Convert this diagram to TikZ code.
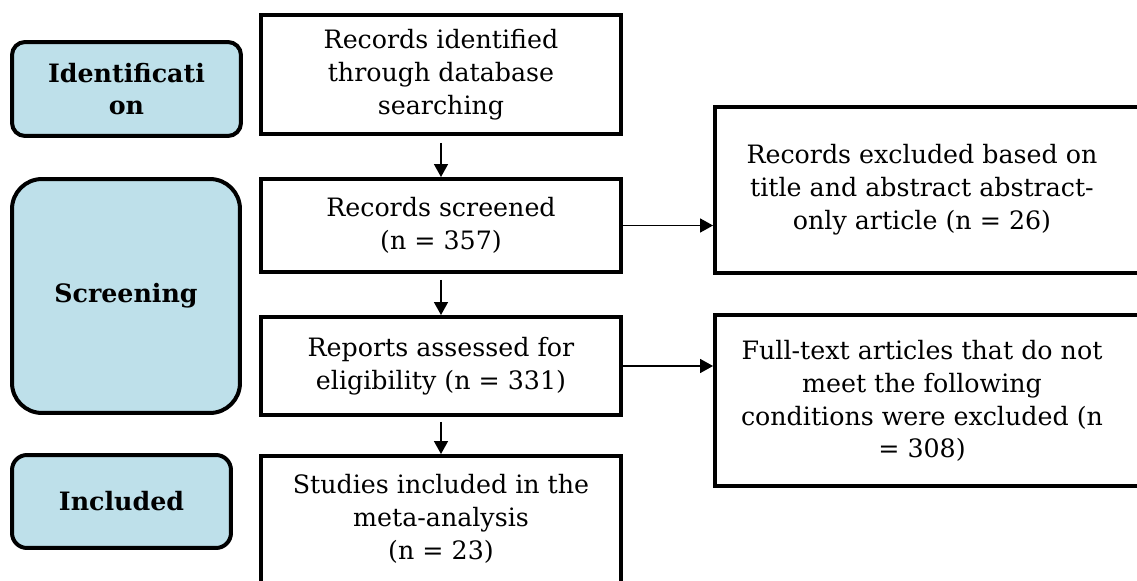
\documentclass[tikz,border=0pt]{standalone}
\usepackage{fontspec}
\setmainfont{DejaVu Serif}
\usetikzlibrary{arrows.meta,calc}
\definecolor{stagefill}{RGB}{190,224,234}
\tikzset{
  stagebox/.style={draw=black, line width=0.08cm, fill=stagefill, align=center,
    font=\fontsize{14.4}{18.7}\selectfont\bfseries, inner sep=0pt},
  flowbox/.style={draw=black, line width=0.08cm, fill=white, align=center,
    font=\fontsize{14.4}{18.7}\selectfont, inner sep=0pt},
  flowtext/.style={align=center, font=\fontsize{14.4}{18.7}\selectfont, inner sep=0pt},
  flowarrow/.style={line width=0.03cm, -{Triangle[width=0.28cm,length=0.26cm]}}
}
\begin{document}
\begin{tikzpicture}[x=0.02cm,y=-0.02cm]
\useasboundingbox (0,0) rectangle (1137,581);
\fill[white] (0,0) rectangle (1137,581);
% stage labels
\node[stagebox, rounded corners=0.26cm, minimum width=4.58cm, minimum height=1.88cm] (sid) at (126.5,89) {Identificati\\on};
\node[stagebox, rounded corners=0.6cm, minimum width=4.56cm, minimum height=4.68cm] (ssc) at (126,296) {Screening};
\node[stagebox, rounded corners=0.3cm, minimum width=4.38cm, minimum height=1.86cm] (sin) at (121.5,501.5) {Included};
% main column
\node[flowbox, minimum width=7.2cm, minimum height=2.38cm] (b1) at (441,74.5) {Records identified\\through database\\searching};
\node[flowbox, minimum width=7.2cm, minimum height=1.86cm] (b2) at (441,225.5) {Records screened\\(n = 357)};
\node[flowbox, minimum width=7.2cm, minimum height=1.96cm] (b3) at (441,366) {Reports assessed for\\eligibility (n = 331)};
\node[flowbox, minimum width=7.2cm, minimum height=2.56cm] (b4) at (441,520) {};
\node[flowtext] (b4t) at (441,519) {Studies included in the\\meta-analysis\\(n = 23)};
% exclusion boxes
\node[flowbox, minimum width=8.9cm, minimum height=3.32cm] (r1) at (937.5,190) {};
\node[flowtext] (r1t) at (922,190) {Records excluded based on\\title and abstract abstract-\\only article (n = 26)};
\node[flowbox, minimum width=8.9cm, minimum height=3.42cm] (r2) at (937.5,400.5) {};
\node[flowtext] (r2t) at (922,401) {Full-text articles that do not\\meet the following\\conditions were excluded (n\\= 308)};
% connectors
\draw[flowarrow, shorten <=0.14cm] (b1.south) -- (b2.north);
\draw[flowarrow, shorten <=0.12cm] (b2.south) -- (b3.north);
\draw[flowarrow, shorten <=0.1cm] (b3.south) -- (b4.north);
\draw[flowarrow] (b2.east) -- (b2.east -| r1.west);
\draw[flowarrow] (b3.east) -- (b3.east -| r2.west);
\end{tikzpicture}
\end{document}
